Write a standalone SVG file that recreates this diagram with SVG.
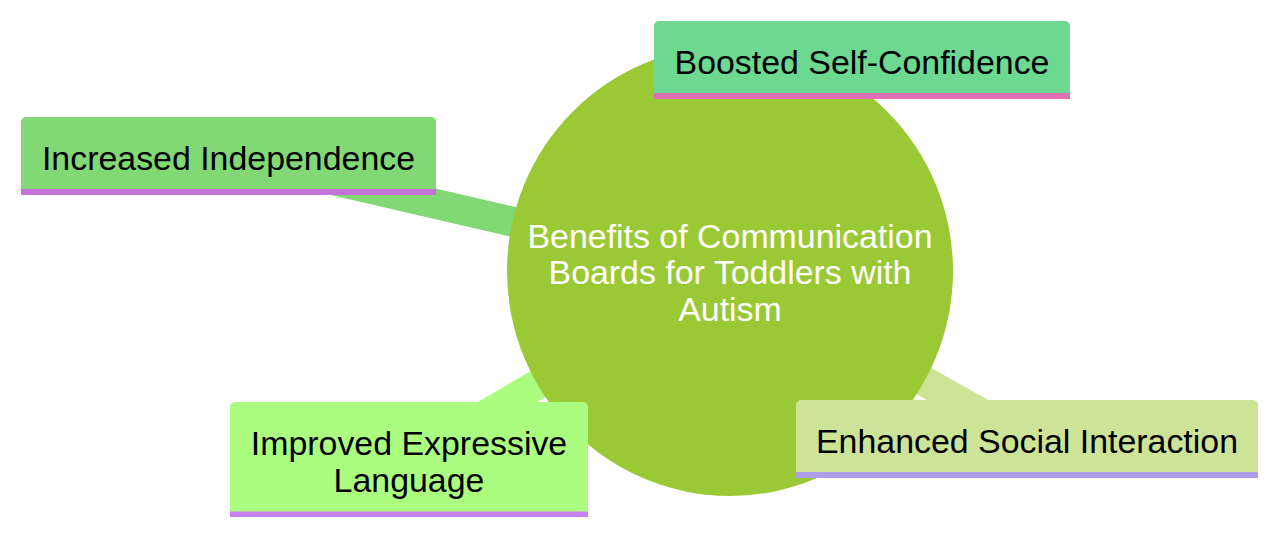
<svg xmlns="http://www.w3.org/2000/svg" width="1280" height="536" viewBox="0 0 1280 536">
  <style>
    .lbl { font-family: "Liberation Sans", Arial, sans-serif; font-size: 33.9px; fill: #000000; text-anchor: middle; }
    .root { font-family: "Liberation Sans", Arial, sans-serif; font-size: 33.9px; fill: #ffffff; text-anchor: middle; }
    .edge { stroke-width: 30; fill: none; stroke-linecap: butt; }
  </style>
  <rect width="1280" height="536" fill="#ffffff"/>
  <g id="connectors">
    <line class="edge" x1="730" y1="272" x2="862" y2="60" stroke="#6cd890"/>
    <line class="edge" x1="730" y1="272" x2="228.5" y2="156" stroke="#82d874"/>
    <line class="edge" x1="730" y1="272" x2="409" y2="459.5" stroke="#abfd7f"/>
    <line class="edge" x1="730" y1="272" x2="1027" y2="439" stroke="#cde397"/>
  </g>
  <g id="root">
    <ellipse cx="730" cy="271" rx="223" ry="225" fill="#9bc935"/>
    <text class="root" x="730" y="248">Benefits of Communication</text>
    <text class="root" x="730" y="284">Boards for Toddlers with</text>
    <text class="root" x="730" y="321">Autism</text>
  </g>
  <g id="boosted">
    <path d="M654,99 V26 a5,5 0 0 1 5,-5 H1065 a5,5 0 0 1 5,5 V99 Z" fill="#6cd890"/>
    <rect x="654" y="93" width="416" height="6" fill="#e070b3"/>
    <text class="lbl" x="862" y="74">Boosted Self-Confidence</text>
  </g>
  <g id="increased">
    <path d="M21,195 V122 a5,5 0 0 1 5,-5 H431 a5,5 0 0 1 5,5 V195 Z" fill="#82d874"/>
    <rect x="21" y="189" width="415" height="6" fill="#c472d8"/>
    <text class="lbl" x="228.5" y="170">Increased Independence</text>
  </g>
  <g id="improved">
    <path d="M230,517 V407 a5,5 0 0 1 5,-5 H583 a5,5 0 0 1 5,5 V517 Z" fill="#abfd7f"/>
    <rect x="230" y="511.5" width="358" height="5.5" fill="#c880f5"/>
    <text class="lbl" x="409" y="455">Improved Expressive</text>
    <text class="lbl" x="409" y="492">Language</text>
  </g>
  <g id="enhanced">
    <path d="M796,478 V405 a5,5 0 0 1 5,-5 H1253 a5,5 0 0 1 5,5 V478 Z" fill="#cde397"/>
    <rect x="796" y="472" width="462" height="6" fill="#ae9ee8"/>
    <text class="lbl" x="1027" y="453">Enhanced Social Interaction</text>
  </g>
</svg>
